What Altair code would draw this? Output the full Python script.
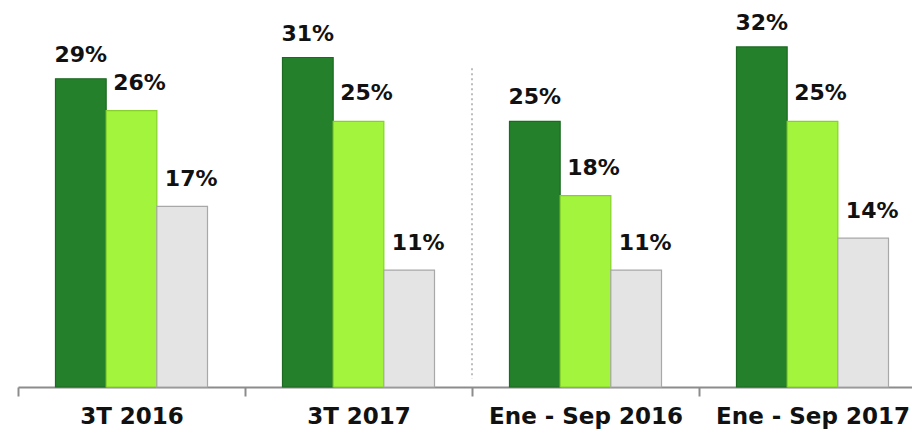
import altair as alt
import pandas as pd

groups = ["3T 2016", "3T 2017", "Ene - Sep 2016", "Ene - Sep 2017"]
series = ["Serie 1", "Serie 2", "Serie 3"]
serie1 = [29, 31, 25, 32]
serie2 = [26, 25, 18, 25]
serie3 = [17, 11, 11, 14]
labels1 = ["29%", "31%", "25%", "32%"]
labels2 = ["26%", "25%", "18%", "25%"]
labels3 = ["17%", "11%", "11%", "14%"]
separator_at = ["Ene - Sep 2016"]
separator_top = [30.0]
separator_bottom = [0.8]

rows = []
for vals, labs, s in [(serie1, labels1, series[0]), (serie2, labels2, series[1]), (serie3, labels3, series[2])]:
    for g, v, l in zip(groups, vals, labs):
        rows.append({"group": g, "series": s, "value": v, "label": l})
df = pd.DataFrame(rows)
sep_df = pd.DataFrame({"group": separator_at, "top": separator_top, "bottom": separator_bottom})

colors = ["#24802A", "#A3F43D", "#E4E4E4"]
strokes = ["#1B6A21", "#86D02C", "#A8A8A8"]

xscale = alt.Scale(domain=groups, range=[0, 908], paddingInner=0, paddingOuter=0)
yscale = alt.Scale(domain=[0, 35], nice=False)

x_axis = alt.Axis(
    domainColor="#8C8C8C", domainWidth=2, tickColor="#8C8C8C", tickWidth=2,
    tickSize=9, tickBand="extent", labelAngle=0, labelFont="DejaVu Sans",
    labelFontWeight="bold", labelFontSize=23, labelColor="#111111",
    labelPadding=9, labelLimit=0, grid=False,
)
x_enc = alt.X("group:N", sort=groups, scale=xscale, title=None, axis=x_axis)
xoff = alt.XOffset("series:N", sort=series,
                   scale=alt.Scale(domain=series, paddingInner=0, paddingOuter=0.74))
y_enc = alt.Y("value:Q", scale=yscale, axis=None)

bars = alt.Chart(df).mark_bar(strokeWidth=1.2).encode(
    x=x_enc, xOffset=xoff, y=y_enc,
    color=alt.Color("series:N", sort=series, scale=alt.Scale(domain=series, range=colors), legend=None),
    stroke=alt.Stroke("series:N", sort=series, scale=alt.Scale(domain=series, range=strokes), legend=None),
)

def text_layer(s, dx, dy):
    return alt.Chart(df).transform_filter(alt.datum.series == s).mark_text(
        font="DejaVu Sans", fontWeight="bold", fontSize=22, color="#111111",
        baseline="alphabetic", align="center", dx=dx, dy=dy,
    ).encode(x=x_enc, xOffset=xoff, y=y_enc, text="label:N")

t1 = text_layer(series[0], 0, -17)
t2 = text_layer(series[1], 8, -21)
t3 = text_layer(series[2], 9, -20)

sep = alt.Chart(sep_df).mark_rule(color="#BDBDBD", strokeWidth=2, strokeDash=[2, 3]).encode(
    x=alt.X("group:N", sort=groups, scale=xscale, bandPosition=0, title=None, axis=x_axis),
    y=alt.Y("top:Q", scale=yscale, axis=None),
    y2="bottom:Q",
)

chart = alt.layer(bars, sep, t1, t2, t3).properties(
    width=894, height=372,
    autosize=alt.AutoSizeParams(type="none"),
    padding={"left": 10, "top": 7, "right": 0, "bottom": 42},
    background="white",
).configure_view(strokeWidth=0, stroke="transparent")

chart.save("out.html", embed_options={"renderer": "svg", "actions": False})
